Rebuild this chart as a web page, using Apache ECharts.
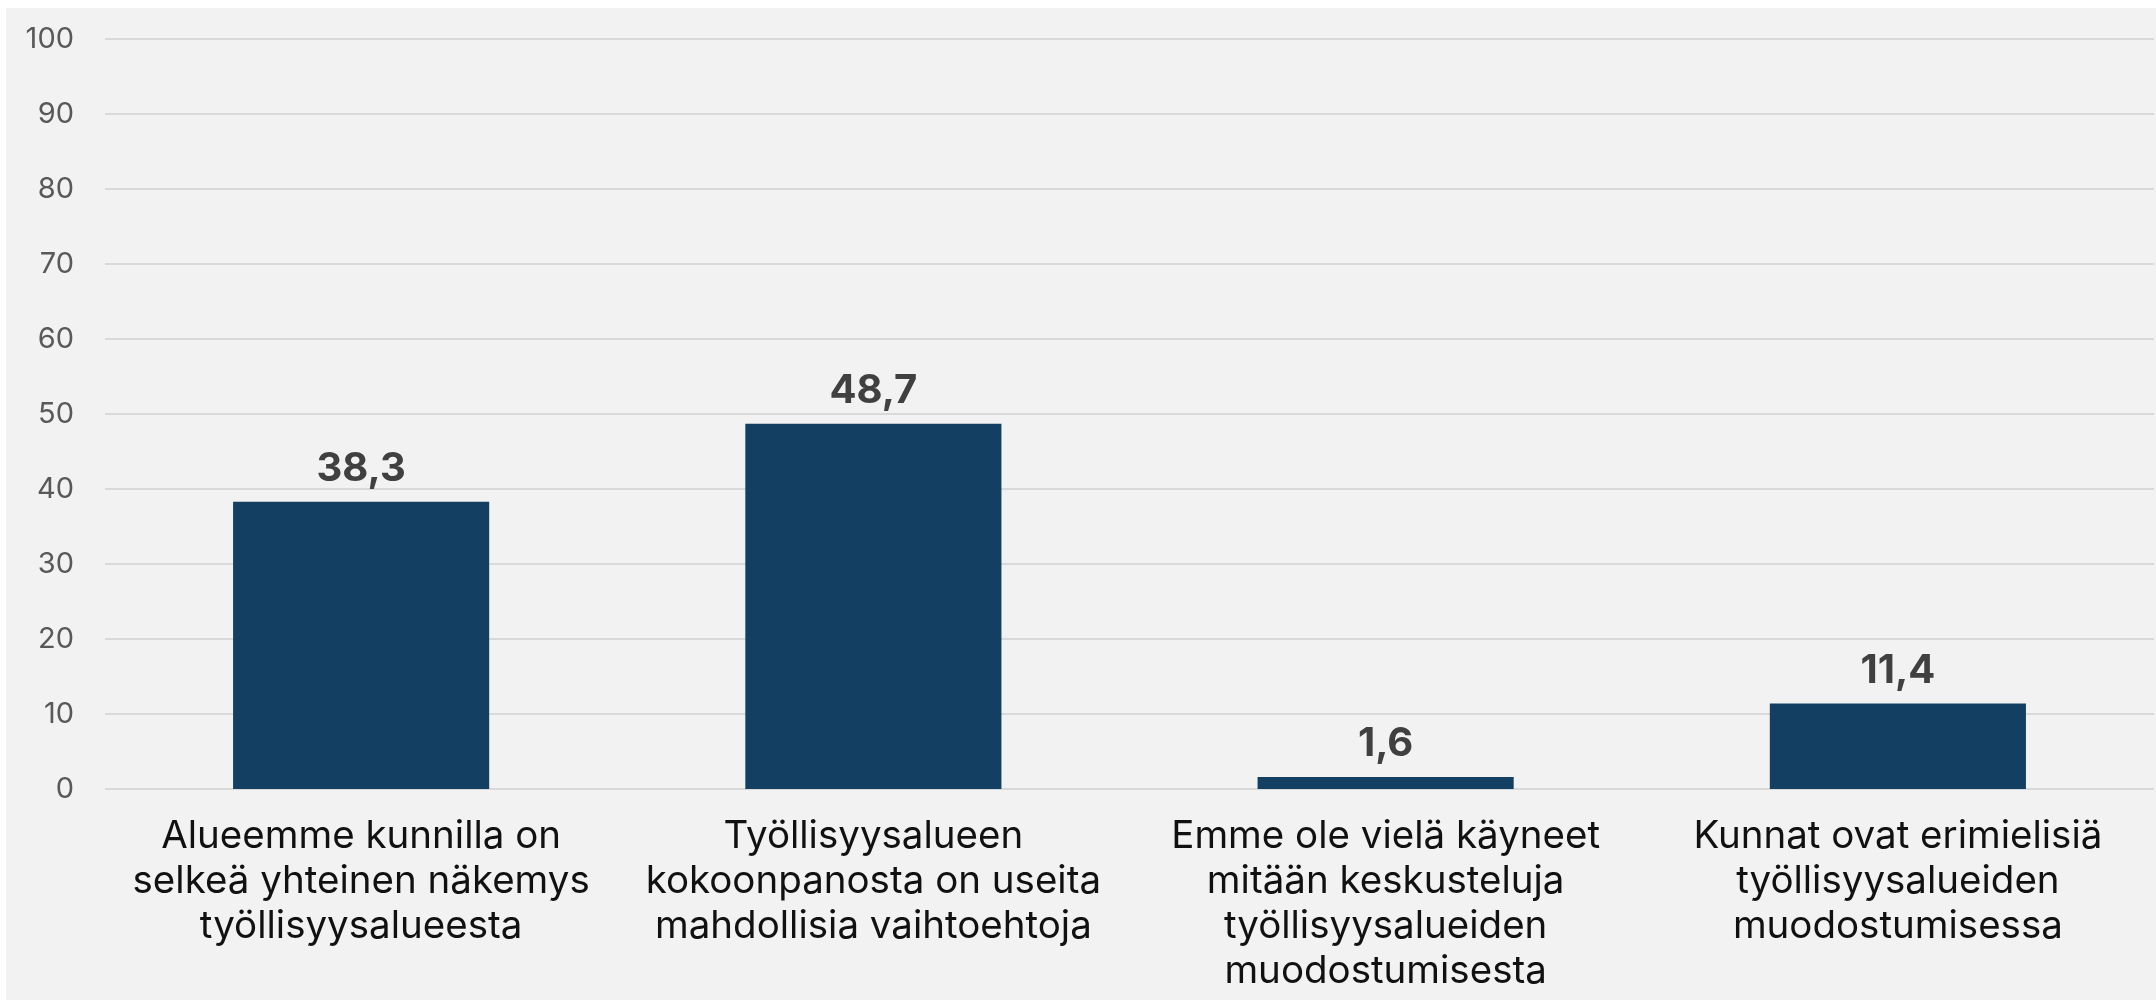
<!DOCTYPE html>
<html lang="fi">
<head>
    <meta charset="UTF-8">
    <title>Työllisyysalueet</title>
    <script src="https://cdn.jsdelivr.net/npm/echarts/dist/echarts.min.js"></script>
    <style>
        html, body {
            margin: 0;
            padding: 0;
            background: #ffffff;
        }
        #main {
            position: absolute;
            left: 6px;
            top: 8px;
            width: 2150px;
            height: 992px;
            background: #f2f2f2;
        }
    </style>
</head>
<body>
    <div id="main"></div>
    <script>
        // 数据
        var categories = [
            'Alueemme kunnilla on\nselkeä yhteinen näkemys\ntyöllisyysalueesta',
            'Työllisyysalueen\nkokoonpanosta on useita\nmahdollisia vaihtoehtoja',
            'Emme ole vielä käyneet\nmitään keskusteluja\ntyöllisyysalueiden\nmuodostumisesta',
            'Kunnat ovat erimielisiä\ntyöllisyysalueiden\nmuodostumisessa'
        ];
        var values = [38.3, 48.7, 1.6, 11.4];

        var chartDom = document.getElementById('main');
        var myChart = echarts.init(chartDom);

        var option = {
            backgroundColor: '#f2f2f2',
            textStyle: {
                fontFamily: 'Inter'
            },
            grid: {
                left: 99,
                right: 2,
                top: 31,
                bottom: 211
            },
            xAxis: {
                type: 'category',
                data: categories,
                axisLine: { show: false },
                axisTick: { show: false },
                axisLabel: {
                    interval: 0,
                    margin: 25,
                    fontSize: 38.5,
                    lineHeight: 45,
                    color: '#111111',
                    fontFamily: 'Inter'
                }
            },
            yAxis: {
                type: 'value',
                min: 0,
                max: 100,
                interval: 10,
                axisLine: { show: false },
                axisTick: { show: false },
                axisLabel: {
                    margin: 31,
                    fontSize: 29,
                    color: '#595959',
                    fontFamily: 'Inter'
                },
                splitLine: {
                    lineStyle: { color: '#d9d9d9', width: 2 }
                }
            },
            series: [{
                type: 'bar',
                data: values,
                barCategoryGap: '50%',
                itemStyle: { color: '#134062' },
                label: {
                    show: true,
                    position: 'top',
                    distance: 13,
                    fontSize: 40,
                    fontWeight: 'bold',
                    color: '#404040',
                    fontFamily: 'Inter',
                    formatter: function (p) {
                        return p.value.toFixed(1).replace('.', ',');
                    }
                }
            }]
        };

        myChart.setOption(option);

        window.addEventListener('resize', function () {
            myChart.resize();
        });
    </script>
</body>
</html>
